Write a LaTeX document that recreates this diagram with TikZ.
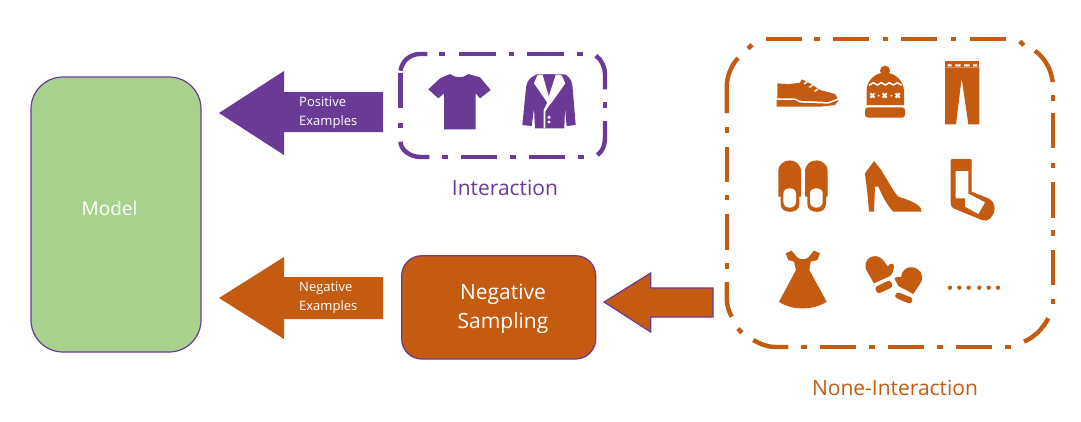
\documentclass[tikz,border=0pt]{standalone}
\usepackage{fontspec}
\setmainfont{Open Sans}
\definecolor{po}{HTML}{C55A11}
\definecolor{pu}{HTML}{6B3A96}
\definecolor{gr}{HTML}{A9D18E}
\tikzset{
  x=1pt,y=-1pt,
  piece/.style={line width=4.4pt},
  outlined/.style={draw=pu,line width=1.2pt},
  txt/.style={inner sep=0pt,align=center},
  big/.style={txt,font=\fontsize{21}{29}\selectfont},
  small/.style={inner sep=0pt,align=left,anchor=west,text=white,font=\fontsize{13}{19}\selectfont},
  zoomed/.style={shift={(#1)},scale=1/3},
}
\begin{document}
\begin{tikzpicture}
\useasboundingbox (0,0) rectangle (1081,421);
\fill[white] (0,0) rectangle (1081,421);
% Model
\draw[outlined,fill=gr,rounded corners=32pt] (31,77) rectangle (201,352);
\node[big,text=white,font=\fontsize{19}{29}\selectfont] (model) at (109.5,208) {Model};
% Block arrows
\fill[pu] (219,113) -- (284,71) -- (284,92) -- (383,92) -- (383,132) -- (284,132) -- (284,155) -- cycle;
\node[small] (pos) at (299,112.5) {Positive\\Examples};
\fill[po] (219,298) -- (284,257) -- (284,277) -- (383,277) -- (383,319) -- (284,319) -- (284,339) -- cycle;
\node[small] (neg) at (299,298) {Negative\\Examples};
\draw[outlined,fill=po] (604,302) -- (650.7,273) -- (650.7,288) -- (713,288) -- (713,317) -- (650.7,317) -- (650.7,332) -- cycle;
% Negative Sampling
\draw[outlined,fill=po,rounded corners=20pt] (401.7,255.7) rectangle (595.7,359);
\node[big,text=white] (sampling) at (503,309) {Negative\\Sampling};
% Purple dash-dot frame
\begin{scope}[piece,draw=pu]
\foreach \a/\b in {459/496,527/564}{\draw (\a,54) -- (\b,54);}
\foreach \a/\b in {461/497,529/565}{\draw (\a,157) -- (\b,157);}
\foreach \c in {442,511.5,580}{\draw (\c-2.7,54) -- (\c+2.7,54);}
\foreach \c in {445,513,581}{\draw (\c-2.7,157) -- (\c+2.7,157);}
\draw (605,102.3) -- (605,107.7);
\draw (400.5,123) -- (400.5,128.4);
\draw (400.5,108.3) -- (400.5,73.3);
\draw (596,55.7) .. controls (602,60) and (605,68) .. (605,74) -- (605,89.3);
\draw (605,121) -- (605,137) .. controls (605,146) and (602,152) .. (597.3,155);
\draw (429.3,157) -- (420.5,157) .. controls (409,157) and (400.5,149) .. (400.5,141.7);
\draw (400.5,70.7) .. controls (402,61) and (410,54) .. (420,54) -- (427.3,54);
\end{scope}
% Orange dash-dot frame
\begin{scope}[piece,draw=po]
\foreach \a/\b in {766/802,833/869,901/937,970/1006}{\draw (\a,39) -- (\b,39);}
\foreach \a/\b in {820/856,888/924,956/992}{\draw (\a,347) -- (\b,347);}
\foreach \c in {817,885.5,953.5}{\draw (\c-2.7,39) -- (\c+2.7,39);}
\foreach \c in {804,872,940,1008}{\draw (\c-2.7,347) -- (\c+2.7,347);}
\foreach \a/\b in {113/148,182/218,250/285}{\draw (1053,\a) -- (1053,\b);}
\foreach \c in {98,165.7,233,301.7}{\draw (1053,\c-2.7) -- (1053,\c+2.7);}
\foreach \a/\b in {147/182,214/250}{\draw (726.7,\a) -- (726.7,\b);}
\foreach \c in {130,197.7,266}{\draw (726.7,\c-2.7) -- (726.7,\c+2.7);}
\draw (748,48.7) -- (752,44.7);
\draw (1019.7,41.3) -- (1023.7,45.3);
\draw (738,328.7) -- (742,332.7);
\draw (1035,50.7) .. controls (1046,59) and (1051,70) .. (1052.7,82);
\draw (1048.3,318.3) .. controls (1042,330) and (1034,337) .. (1024,341.7);
\draw (753.3,340) .. controls (760,344) and (768,347) .. (775,347) -- (788.3,347);
\draw (726.7,282) -- (726.7,298) .. controls (726.7,304) and (728,310) .. (731.7,316.7);
\draw (726.7,113) -- (726.7,88) .. controls (726.7,76) and (731,66) .. (738,58);
\end{scope}
\node[big,text=pu] (interaction) at (505,188) {Interaction};
\node[big,text=po] (none) at (895,388) {None-Interaction};
% T-shirt and jacket
\begin{scope}[zoomed={390,40}]
\fill[pu] (180,102) .. controls (195,115) and (222,115) .. (235,102) -- (270,112) -- (302,150) -- (270,175) -- (257,160) -- (257,268) -- (162,268) -- (162,160) -- (145,175) -- (115,148) -- (150,115) -- cycle;
\fill[pu] (440,103) -- (525,103) .. controls (545,115) and (547,130) .. (548,145) -- (557,255) -- (530,258) -- (525,205) -- (523,265) -- (435,265) -- (432,205) -- (425,258) -- (397,255) -- (408,145) .. controls (408,125) and (420,112) .. (440,103) -- cycle;
\fill[white] (442,106) -- (432,130) -- (472,188) -- (461,210) -- (461,265) -- (466,265) -- (466,214) -- (482,190) -- (458,105) -- cycle;
\fill[white] (515,106) -- (526,130) -- (482,192) -- (476,170) -- (497,105) -- cycle;
\fill[pu] (462,103) -- (494,103) -- (478,158) -- cycle;
\fill[white] (477,232) circle (5) (477,246) circle (5);
\end{scope}
% Shoe, hat, trousers
\begin{scope}[zoomed={720,30}]
\fill[po] (172,160) -- (205,163) -- (240,158) -- (245,148) -- (270,160) -- (300,180) -- (345,192) -- (353,205) -- (325,216) -- (240,212) -- (225,205) -- (172,205) -- cycle;
\fill[po] (170,210) -- (225,210) -- (240,218) -- (325,221) -- (357,210) -- (345,225) -- (300,230) -- (170,230) -- cycle;
\draw[white,line width=1.5pt] (252,162) -- (262,155) (268,172) -- (278,165) (284,184) -- (294,177);
\fill[po] (495,122) circle (15);
\fill[po] (440,225) -- (440,180) .. controls (442,150) and (465,128) .. (495,128) .. controls (525,128) and (548,150) .. (552,180) -- (552,225) -- cycle;
\fill[po,rounded corners=3pt] (435,232) rectangle (555,263);
\draw[white,line width=1.5pt] (447,166) -- (460,158) -- (472,165) -- (484,158) -- (496,165) -- (508,158) -- (520,165) -- (532,158) -- (545,166);
\draw[white,line width=2pt] (451,190) -- (463,203) (463,190) -- (451,203) (488,190) -- (500,203) (500,190) -- (488,203) (527,190) -- (539,203) (539,190) -- (527,203);
\fill[white] (476,197) circle (3) (514,197) circle (3);
\fill[po] (675,92) rectangle (778,112);
\fill[white] (683,103) rectangle (695,109) (705,103) rectangle (722,109) (732,103) rectangle (749,109) (759,103) rectangle (772,109);
\fill[po] (675,112) -- (778,112) -- (778,283) -- (745,283) -- (725,145) -- (708,283) -- (675,283) -- cycle;
\end{scope}
% Slippers, heel, sock
\begin{scope}[zoomed={720,145}]
\foreach \dx in {0,80}{
  \fill[po,shift={(\dx,0)}] (175,80) .. controls (175,35) and (243,35) .. (243,80) -- (243,155) -- (238,155) -- (238,178) .. controls (238,208) and (182,208) .. (182,178) -- (182,155) -- (175,155) -- cycle;
  \fill[white,shift={(\dx,0)}] (190,145) .. controls (190,125) and (228,125) .. (228,145) -- (228,170) .. controls (228,194) and (190,194) .. (190,170) -- cycle;
}
\fill[po] (462,48) -- (435,85) .. controls (437,110) and (442,130) .. (447,200) -- (462,200) -- (465,125) -- (475,125) .. controls (490,160) and (505,185) .. (520,200) -- (605,200) .. controls (605,185) and (590,172) .. (535,155) .. controls (520,140) and (500,100) .. (480,70) -- cycle;
\fill[po] (697,42) -- (750,42) .. controls (754,42) and (755,44) .. (755,48) -- (755,140) -- (805,160) .. controls (830,172) and (828,205) .. (810,220) .. controls (802,228) and (795,228) .. (785,225) -- (705,192) .. controls (695,188) and (692,182) .. (692,175) -- (692,48) .. controls (692,44) and (694,42) .. (697,42) -- cycle;
\fill[white] (707,78) -- (745,78) -- (745,146) -- (795,172) -- (775,207) -- (735,185) -- (735,160) -- (707,160) -- cycle;
\end{scope}
% Dress, mittens, dots
\begin{scope}[zoomed={720,250}]
\fill[po] (197,10) -- (215,2) -- (232,22) .. controls (240,30) and (257,30) .. (265,22) -- (282,2) -- (300,10) -- (292,30) -- (272,35) -- (268,60) -- (320,155) .. controls (280,182) and (215,182) .. (177,155) -- (228,60) -- (222,35) -- (205,30) -- cycle;
\fill[po] (462,100) -- (440,62) .. controls (428,35) and (450,12) .. (475,20) .. controls (488,25) and (497,40) .. (503,50) .. controls (510,38) and (522,38) .. (522,50) .. controls (522,60) and (518,70) .. (510,78) -- cycle;
\fill[po,rounded corners=3pt] (463,112) -- (510,90) -- (520,110) -- (473,132) -- cycle;
\fill[po] (523,85) .. controls (530,78) and (538,80) .. (543,82) .. controls (545,62) and (560,48) .. (578,52) .. controls (600,55) and (612,75) .. (604,95) -- (580,132) -- (535,108) -- cycle;
\fill[po,rounded corners=3pt] (530,125) -- (580,145) -- (573,163) -- (523,142) -- cycle;
\foreach \px in {690,718,746,778,806,834}{\fill[po] (\px,113) circle (6.5);}
\end{scope}
\end{tikzpicture}
\end{document}
